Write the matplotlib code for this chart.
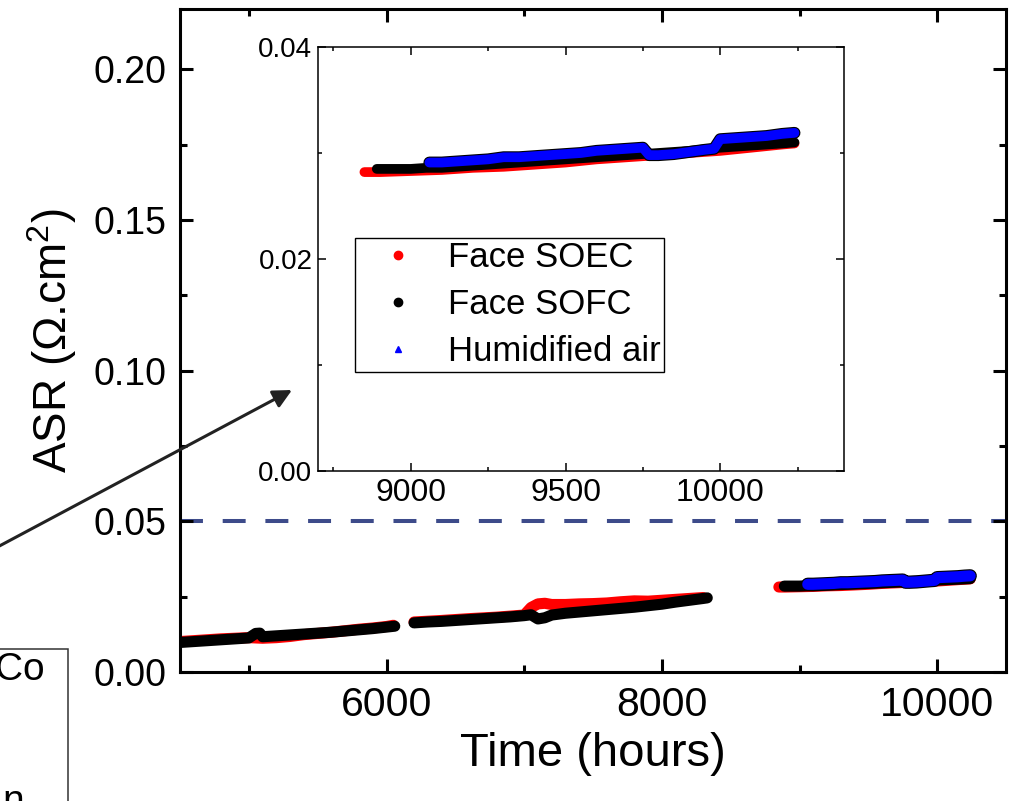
import numpy as np
import matplotlib
matplotlib.use('Agg')
import matplotlib.pyplot as plt
from matplotlib.lines import Line2D
from matplotlib.patches import FancyArrowPatch, Rectangle
from matplotlib.ticker import MultipleLocator

plt.rcParams['font.family'] = 'Liberation Sans'
plt.rcParams['mathtext.fontset'] = 'custom'
plt.rcParams['mathtext.rm'] = 'Liberation Sans'
plt.rcParams['mathtext.it'] = 'Liberation Sans:italic'

nan = np.nan

# Face SOEC (red), three runs separated by nan
soec_t = [4500, 4600, 4700, 4800, 4900, 5000, 5100, 5200, 5300, 5400, 5500, 5600, 5700,
          5800, 5900, 6000, 6050, nan,
          6200, 6400, 6600, 6800, 7000, 7050, 7100, 7150, 7200, 7300, 7400, 7500, 7600,
          7700, 7800, 7900, 8000, 8100, 8200, 8300, nan,
          8850, 8900, 9000, 9100, 9200, 9300, 9400, 9500, 9600, 9700, 9800, 9900, 10000,
          10100, 10200, 10240]
soec_asr = [0.0101, 0.0104, 0.0107, 0.0110, 0.0112, 0.0114, 0.0112, 0.0114, 0.0118, 0.0124,
            0.0128, 0.0132, 0.0137, 0.0142, 0.0146, 0.0151, 0.0155, nan,
            0.0166, 0.0171, 0.0177, 0.0182, 0.0189, 0.0214, 0.0226, 0.0228, 0.0224, 0.0224,
            0.0226, 0.0227, 0.0229, 0.0233, 0.0236, 0.0235, 0.0238, 0.0241, 0.0244, 0.0247, nan,
            0.0282, 0.0282, 0.0283, 0.0284, 0.0286, 0.0287, 0.0289, 0.0291, 0.0294, 0.0296,
            0.0298, 0.0300, 0.0302, 0.0305, 0.0308, 0.0309]

# Face SOFC (black)
sofc_t = [4500, 4600, 4700, 4800, 4900, 5000, 5050, 5080, 5100, 5200, 5300, 5400, 5500,
          5600, 5700, 5800, 5900, 6000, 6060, nan,
          6200, 6300, 6400, 6500, 6600, 6700, 6800, 6900, 7000, 7050, 7100, 7150, 7200,
          7300, 7400, 7500, 7600, 7700, 7800, 7900, 8000, 8100, 8200, 8300, 8330, nan,
          8890, 8950, 9000, 9050, 9100, 9200, 9300, 9400, 9500, 9600, 9700, 9800, 9900,
          10000, 10100, 10200, 10240]
sofc_asr = [0.0098, 0.0101, 0.0104, 0.0107, 0.0110, 0.0113, 0.0128, 0.0129, 0.0117, 0.0120,
            0.0123, 0.0126, 0.0129, 0.0132, 0.0136, 0.0140, 0.0144, 0.0149, 0.0152, nan,
            0.0163, 0.0166, 0.0168, 0.0171, 0.0174, 0.0177, 0.0180, 0.0183, 0.0187, 0.0190,
            0.0176, 0.0180, 0.0189, 0.0195, 0.0199, 0.0203, 0.0207, 0.0211, 0.0215, 0.0220,
            0.0225, 0.0232, 0.0238, 0.0244, 0.0246, nan,
            0.0285, 0.0285, 0.0285, 0.0286, 0.0286, 0.0288, 0.0290, 0.0292, 0.0294, 0.0296,
            0.0298, 0.0300, 0.0302, 0.0305, 0.0307, 0.0309, 0.0310]

# Humidified air (blue)
hum_t = [9060, 9100, 9150, 9200, 9250, 9300, 9350, 9400, 9450, 9500, 9550, 9600, 9650,
         9700, 9750, 9770, 9800, 9850, 9900, 9950, 9980, 10000, 10050, 10100, 10150,
         10200, 10240]
hum_asr = [0.0291, 0.0291, 0.0292, 0.0293, 0.0294, 0.0296, 0.0296, 0.0297, 0.0298, 0.0299,
           0.0300, 0.0302, 0.0303, 0.0304, 0.0305, 0.0298, 0.0298, 0.0299, 0.0301, 0.0303,
           0.0304, 0.0313, 0.0314, 0.0315, 0.0316, 0.0318, 0.0319]

asr_limit = 0.05


def draw_series(ax, lw):
    ax.plot(soec_t, soec_asr, color='red', lw=lw, solid_capstyle='round',
            solid_joinstyle='round', zorder=2)
    ax.plot(sofc_t, sofc_asr, color='black', lw=lw, solid_capstyle='round',
            solid_joinstyle='round', zorder=3)
    ax.plot(hum_t, hum_asr, color='black', lw=lw + 1.6, solid_capstyle='round',
            solid_joinstyle='round', zorder=4)
    ax.plot(hum_t, hum_asr, color='#0000ff', lw=lw, solid_capstyle='round',
            solid_joinstyle='round', zorder=5)


fig = plt.figure(figsize=(10.24, 8.01), dpi=100)

# main axes
ax = fig.add_axes([180 / 1024, 1 - 672 / 801, 826 / 1024, 663 / 801])
draw_series(ax, 8.0)
ax.axhline(asr_limit, color='#3d4b8a', lw=2.9, linestyle=(0, (5.7, 4.9)), zorder=1)
ax.set_xlim(4500, 10500)
ax.set_ylim(0, 0.22)
ax.xaxis.set_major_locator(MultipleLocator(2000))
ax.xaxis.set_minor_locator(MultipleLocator(1000))
ax.yaxis.set_major_locator(MultipleLocator(0.05))
ax.yaxis.set_minor_locator(MultipleLocator(0.025))
ax.yaxis.set_major_formatter(matplotlib.ticker.FormatStrFormatter('%.2f'))
ax.tick_params(which='both', direction='in', top=True, right=True, width=2.2, pad=10)
ax.tick_params(axis='y', labelsize=27)
ax.tick_params(axis='x', labelsize=29.5)
ax.tick_params(which='major', length=9.5)
ax.tick_params(which='minor', length=4.7)
for sp in ax.spines.values():
    sp.set_linewidth(2.2)
ax.set_xlabel('Time (hours)', fontsize=34, labelpad=6)
ax.set_ylabel('ASR (Ω.cm$^{2}$)', fontsize=33, labelpad=10)

# inset
ax2 = fig.add_axes([318 / 1024, 1 - 471 / 801, 526 / 1024, 424 / 801])
draw_series(ax2, 7.0)
ax2.set_xlim(8700, 10400)
ax2.set_ylim(0, 0.04)
ax2.xaxis.set_major_locator(MultipleLocator(500))
ax2.xaxis.set_minor_locator(MultipleLocator(250))
ax2.yaxis.set_major_locator(MultipleLocator(0.02))
ax2.yaxis.set_minor_locator(MultipleLocator(0.01))
ax2.yaxis.set_major_formatter(matplotlib.ticker.FormatStrFormatter('%.2f'))
ax2.tick_params(which='both', direction='in', top=True, right=True, width=1.1)
ax2.tick_params(which='major', length=5.8)
ax2.tick_params(which='minor', length=3)
ax2.tick_params(axis='x', labelsize=23, pad=5)
ax2.tick_params(axis='y', labelsize=20, pad=4)
for lab in ax2.get_yticklabels():
    lab.set_family(['Liberation Sans Narrow', 'Liberation Sans'])
for sp in ax2.spines.values():
    sp.set_linewidth(1.1)

handles = [
    Line2D([], [], ls='none', marker='o', color='red', ms=6),
    Line2D([], [], ls='none', marker='o', color='black', ms=6),
    Line2D([], [], ls='none', marker='^', color='#0000ff', ms=4.5),
]
leg = fig.legend(handles, ['Face SOEC', 'Face SOFC', 'Humidified air'],
                 loc='upper left', bbox_to_anchor=(355 / 1024, 1 - 238 / 801),
                 borderaxespad=0, fontsize=25, fancybox=False, framealpha=1,
                 edgecolor='black', handlelength=2.28, handletextpad=0.3,
                 labelspacing=0.4, borderpad=0.1)
leg.get_frame().set_linewidth(1.0)

# arrow pointing into the inset
arrow = FancyArrowPatch((-10 / 1024, 1 - 551 / 801), (292 / 1024, 1 - 390 / 801),
                        transform=fig.transFigure, arrowstyle='-|>', mutation_scale=28,
                        color='#222222', lw=2.2, shrinkA=0, shrinkB=0)
fig.add_artist(arrow)

# clipped box from the neighbouring panel
box = Rectangle((-40 / 1024, -0.05), 108 / 1024, 0.05 + 1 - 649 / 801,
                transform=fig.transFigure, fill=False, edgecolor='#333333', lw=1.1)
fig.add_artist(box)
fig.text(45 / 1024, 1 - 670 / 801, 'Co', fontsize=28, ha='right', va='center')
fig.text(2 / 1024, 1 - 812 / 801, 'n', fontsize=28, ha='left', va='baseline')

fig.savefig('out.png', dpi=100)
